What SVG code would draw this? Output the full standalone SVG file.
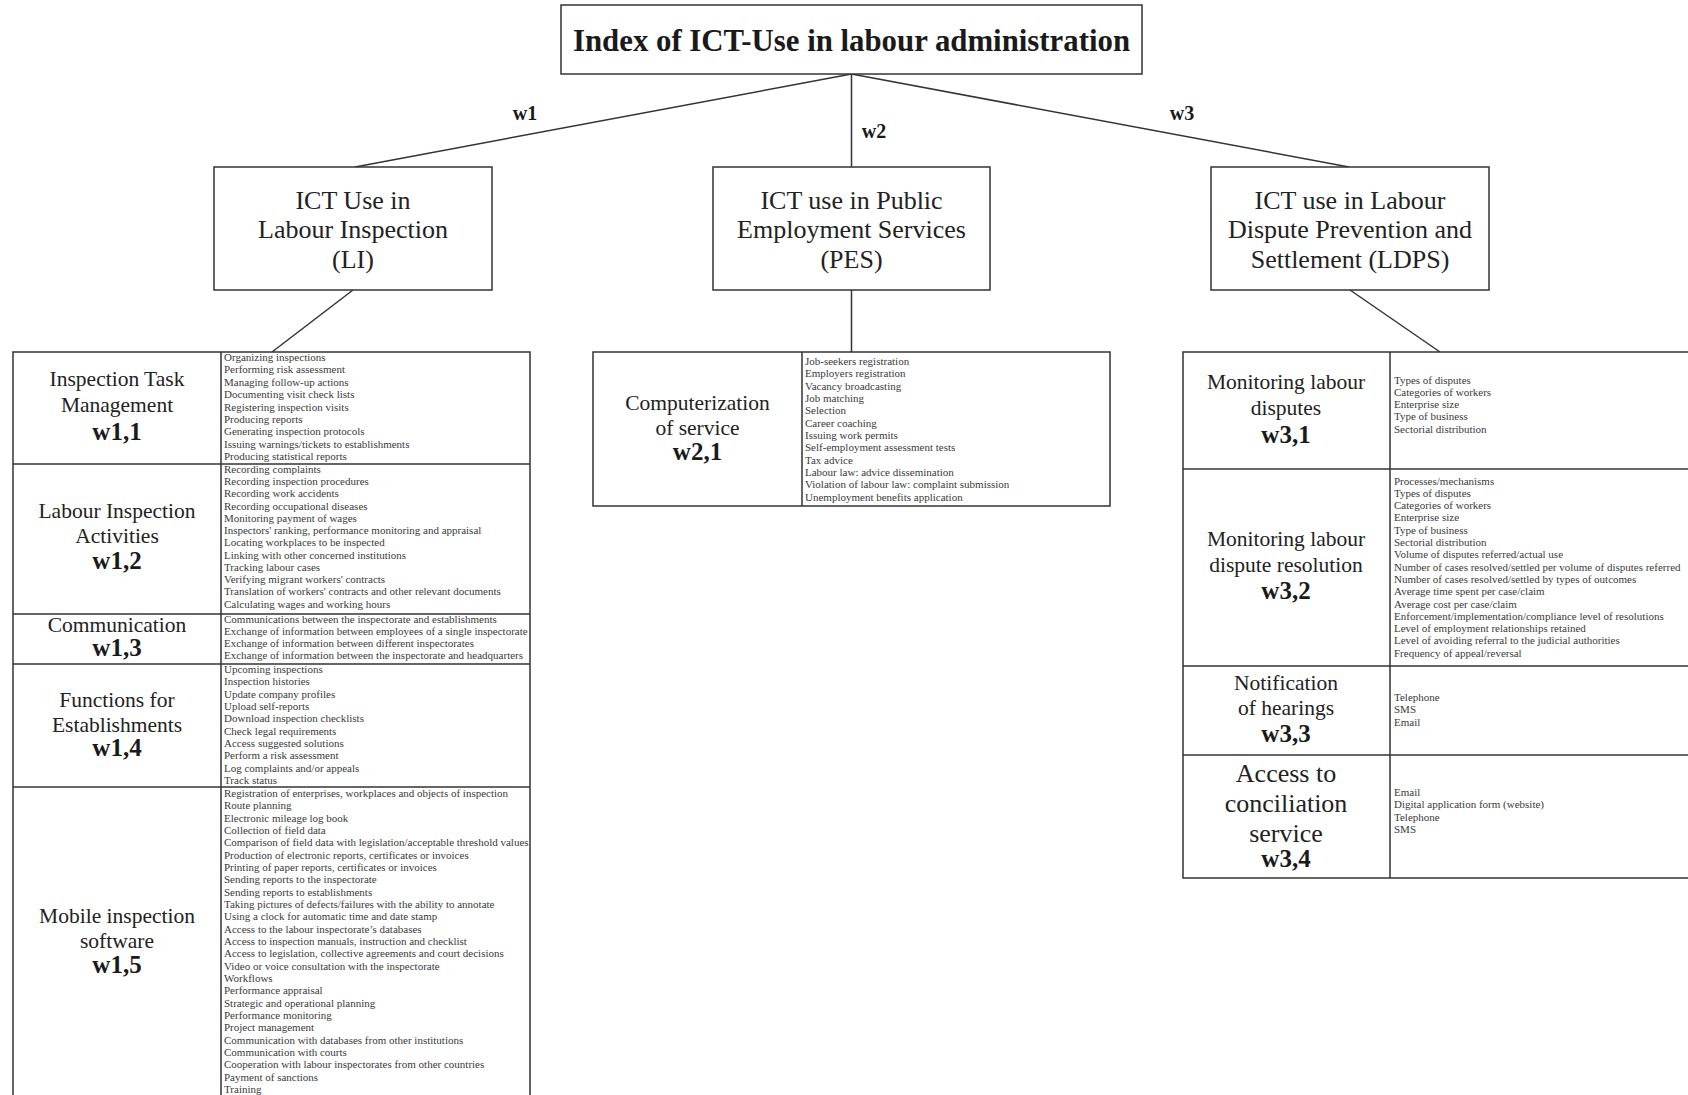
<svg xmlns="http://www.w3.org/2000/svg" width="1688" height="1095" viewBox="0 0 1688 1095">
<style>
.box{fill:#fff;stroke:#333;stroke-width:1.5}
.ln{stroke:#333;stroke-width:1.5;fill:none}
.title{font-family:"Liberation Serif",serif;font-weight:bold;font-size:30.8px;fill:#1a1a1a;text-anchor:middle}
.wl{font-family:"Liberation Serif",serif;font-weight:bold;font-size:20px;fill:#1a1a1a;text-anchor:middle}
.l2{font-family:"Liberation Serif",serif;font-size:26px;fill:#222;text-anchor:middle}
.lab{font-family:"Liberation Serif",serif;font-size:21.5px;fill:#222;text-anchor:middle}
.lab26{font-family:"Liberation Serif",serif;font-size:26px;fill:#222;text-anchor:middle}
.wb{font-family:"Liberation Serif",serif;font-weight:bold;font-size:25px;fill:#1a1a1a;text-anchor:middle}
.sm{font-family:"Liberation Serif",serif;font-size:11px;fill:#3a3a3a}
</style>
<rect width="1688" height="1095" fill="#fff"/>

<g id="connectors">
<line class="ln" x1="851.5" y1="74" x2="355" y2="167"/>
<line class="ln" x1="851.5" y1="74" x2="851.5" y2="167"/>
<line class="ln" x1="851.5" y1="74" x2="1349" y2="167"/>
<line class="ln" x1="353" y1="290" x2="272" y2="352"/>
<line class="ln" x1="851.5" y1="290" x2="851.5" y2="352"/>
<line class="ln" x1="1350" y1="290" x2="1440" y2="352"/>
<text class="wl" x="525" y="120">w1</text>
<text class="wl" x="874" y="138">w2</text>
<text class="wl" x="1182" y="120">w3</text>
</g>

<g id="root">
<rect class="box" x="561" y="5" width="581" height="69"/>
<text class="title" x="851.5" y="51">Index of ICT-Use in labour administration</text>
</g>

<g id="li">
<rect class="box" x="214" y="167" width="278" height="123"/>
<text class="l2" x="353" y="208.5">ICT Use in</text>
<text class="l2" x="353" y="237.5">Labour Inspection</text>
<text class="l2" x="353" y="268">(LI)</text>
</g>

<g id="pes">
<rect class="box" x="713" y="167" width="277" height="123"/>
<text class="l2" x="851.5" y="208.5">ICT use in Public</text>
<text class="l2" x="851.5" y="237.5">Employment Services</text>
<text class="l2" x="851.5" y="268">(PES)</text>
</g>

<g id="ldps">
<rect class="box" x="1211" y="167" width="278" height="123"/>
<text class="l2" x="1350" y="208.5">ICT use in Labour</text>
<text class="l2" x="1350" y="237.5">Dispute Prevention and</text>
<text class="l2" x="1350" y="268">Settlement (LDPS)</text>
</g>

<g id="table-li">
<rect class="box" x="13" y="352" width="517" height="760"/>
<line class="ln" x1="221" y1="352" x2="221" y2="1112"/>
<line class="ln" x1="13" y1="464" x2="530" y2="464"/>
<line class="ln" x1="13" y1="614" x2="530" y2="614"/>
<line class="ln" x1="13" y1="664" x2="530" y2="664"/>
<line class="ln" x1="13" y1="787" x2="530" y2="787"/>
</g>

<g id="w11">
<text class="lab" x="117" y="386">Inspection Task</text>
<text class="lab" x="117" y="412">Management</text>
<text class="wb" x="117" y="440">w1,1</text>
<text class="sm" y="361"><tspan x="224">Organizing inspections</tspan><tspan x="224" dy="12.375">Performing risk assessment</tspan><tspan x="224" dy="12.375">Managing follow-up actions</tspan><tspan x="224" dy="12.375">Documenting visit check lists</tspan><tspan x="224" dy="12.375">Registering inspection visits</tspan><tspan x="224" dy="12.375">Producing reports</tspan><tspan x="224" dy="12.375">Generating inspection protocols</tspan><tspan x="224" dy="12.375">Issuing warnings/tickets to establishments</tspan><tspan x="224" dy="12.375">Producing statistical reports</tspan></text>
</g>

<g id="w12">
<text class="lab" x="117" y="518">Labour Inspection</text>
<text class="lab" x="117" y="543">Activities</text>
<text class="wb" x="117" y="569">w1,2</text>
<text class="sm" y="473"><tspan x="224">Recording complaints</tspan><tspan x="224" dy="12.23">Recording inspection procedures</tspan><tspan x="224" dy="12.23">Recording work accidents</tspan><tspan x="224" dy="12.23">Recording occupational diseases</tspan><tspan x="224" dy="12.23">Monitoring payment of wages</tspan><tspan x="224" dy="12.23">Inspectors' ranking, performance monitoring and appraisal</tspan><tspan x="224" dy="12.23">Locating workplaces to be inspected</tspan><tspan x="224" dy="12.23">Linking with other concerned institutions</tspan><tspan x="224" dy="12.23">Tracking labour cases</tspan><tspan x="224" dy="12.23">Verifying migrant workers' contracts</tspan><tspan x="224" dy="12.23">Translation of workers' contracts and other relevant documents</tspan><tspan x="224" dy="12.23">Calculating wages and working hours</tspan></text>
</g>

<g id="w13">
<text class="lab" x="117" y="632">Communication</text>
<text class="wb" x="117" y="656">w1,3</text>
<text class="sm" y="622.5"><tspan x="224">Communications between the inspectorate and establishments</tspan><tspan x="224" dy="12.3">Exchange of information between employees of a single inspectorate</tspan><tspan x="224" dy="12.3">Exchange of information between different inspectorates</tspan><tspan x="224" dy="12.3">Exchange of information between the inspectorate and headquarters</tspan></text>
</g>

<g id="w14">
<text class="lab" x="117" y="707">Functions for</text>
<text class="lab" x="117" y="731.5">Establishments</text>
<text class="wb" x="117" y="756">w1,4</text>
<text class="sm" y="673"><tspan x="224">Upcoming inspections</tspan><tspan x="224" dy="12.32">Inspection histories</tspan><tspan x="224" dy="12.32">Update company profiles</tspan><tspan x="224" dy="12.32">Upload self-reports</tspan><tspan x="224" dy="12.32">Download inspection checklists</tspan><tspan x="224" dy="12.32">Check legal requirements</tspan><tspan x="224" dy="12.32">Access suggested solutions</tspan><tspan x="224" dy="12.32">Perform a risk assessment</tspan><tspan x="224" dy="12.32">Log complaints and/or appeals</tspan><tspan x="224" dy="12.32">Track status</tspan></text>
</g>

<g id="w15">
<text class="lab" x="117" y="923">Mobile inspection</text>
<text class="lab" x="117" y="947.5">software</text>
<text class="wb" x="117" y="973">w1,5</text>
<text class="sm" y="797"><tspan x="224">Registration of enterprises, workplaces and objects of inspection</tspan><tspan x="224" dy="12.33">Route planning</tspan><tspan x="224" dy="12.33">Electronic mileage log book</tspan><tspan x="224" dy="12.33">Collection of field data</tspan><tspan x="224" dy="12.33">Comparison of field data with legislation/acceptable threshold values</tspan><tspan x="224" dy="12.33">Production of electronic reports, certificates or invoices</tspan><tspan x="224" dy="12.33">Printing of paper reports, certificates or invoices</tspan><tspan x="224" dy="12.33">Sending reports to the inspectorate</tspan><tspan x="224" dy="12.33">Sending reports to establishments</tspan><tspan x="224" dy="12.33">Taking pictures of defects/failures with the ability to annotate</tspan><tspan x="224" dy="12.33">Using a clock for automatic time and date stamp</tspan><tspan x="224" dy="12.33">Access to the labour inspectorate’s databases</tspan><tspan x="224" dy="12.33">Access to inspection manuals, instruction and checklist</tspan><tspan x="224" dy="12.33">Access to legislation, collective agreements and court decisions</tspan><tspan x="224" dy="12.33">Video or voice consultation with the inspectorate</tspan><tspan x="224" dy="12.33">Workflows</tspan><tspan x="224" dy="12.33">Performance appraisal</tspan><tspan x="224" dy="12.33">Strategic and operational planning</tspan><tspan x="224" dy="12.33">Performance monitoring</tspan><tspan x="224" dy="12.33">Project management</tspan><tspan x="224" dy="12.33">Communication with databases from other institutions</tspan><tspan x="224" dy="12.33">Communication with courts</tspan><tspan x="224" dy="12.33">Cooperation with labour inspectorates from other countries</tspan><tspan x="224" dy="12.33">Payment of sanctions</tspan><tspan x="224" dy="12.33">Training</tspan></text>
</g>

<g id="table-pes">
<rect class="box" x="593" y="352" width="517" height="154"/>
<line class="ln" x1="802" y1="352" x2="802" y2="506"/>
</g>

<g id="w21">
<text class="lab" x="697.5" y="409.5">Computerization</text>
<text class="lab" x="697.5" y="434.5">of service</text>
<text class="wb" x="697.5" y="460">w2,1</text>
<text class="sm" y="365"><tspan x="805">Job-seekers registration</tspan><tspan x="805" dy="12.33">Employers registration</tspan><tspan x="805" dy="12.33">Vacancy broadcasting</tspan><tspan x="805" dy="12.33">Job matching</tspan><tspan x="805" dy="12.33">Selection</tspan><tspan x="805" dy="12.33">Career coaching</tspan><tspan x="805" dy="12.33">Issuing work permits</tspan><tspan x="805" dy="12.33">Self-employment assessment tests</tspan><tspan x="805" dy="12.33">Tax advice</tspan><tspan x="805" dy="12.33">Labour law: advice dissemination</tspan><tspan x="805" dy="12.33">Violation of labour law: complaint submission</tspan><tspan x="805" dy="12.33">Unemployment benefits application</tspan></text>
</g>

<g id="table-ldps">
<rect class="box" x="1183" y="352" width="530" height="526"/>
<line class="ln" x1="1390" y1="352" x2="1390" y2="878"/>
<line class="ln" x1="1183" y1="469" x2="1713" y2="469"/>
<line class="ln" x1="1183" y1="666" x2="1713" y2="666"/>
<line class="ln" x1="1183" y1="755" x2="1713" y2="755"/>
</g>

<g id="w31">
<text class="lab" x="1286" y="389">Monitoring labour</text>
<text class="lab" x="1286" y="415">disputes</text>
<text class="wb" x="1286" y="443">w3,1</text>
<text class="sm" y="383.5"><tspan x="1394">Types of disputes</tspan><tspan x="1394" dy="12.3">Categories of workers</tspan><tspan x="1394" dy="12.3">Enterprise size</tspan><tspan x="1394" dy="12.3">Type of business</tspan><tspan x="1394" dy="12.3">Sectorial distribution</tspan></text>
</g>

<g id="w32">
<text class="lab" x="1286" y="546">Monitoring labour</text>
<text class="lab" x="1286" y="572">dispute resolution</text>
<text class="wb" x="1286" y="599">w3,2</text>
<text class="sm" y="484.5"><tspan x="1394">Processes/mechanisms</tspan><tspan x="1394" dy="12.3">Types of disputes</tspan><tspan x="1394" dy="12.3">Categories of workers</tspan><tspan x="1394" dy="12.3">Enterprise size</tspan><tspan x="1394" dy="12.3">Type of business</tspan><tspan x="1394" dy="12.3">Sectorial distribution</tspan><tspan x="1394" dy="12.3">Volume of disputes referred/actual use</tspan><tspan x="1394" dy="12.3">Number of cases resolved/settled per volume of disputes referred</tspan><tspan x="1394" dy="12.3">Number of cases resolved/settled by types of outcomes</tspan><tspan x="1394" dy="12.3">Average time spent per case/claim</tspan><tspan x="1394" dy="12.3">Average cost per case/claim</tspan><tspan x="1394" dy="12.3">Enforcement/implementation/compliance level of resolutions</tspan><tspan x="1394" dy="12.3">Level of employment relationships retained</tspan><tspan x="1394" dy="12.3">Level of avoiding referral to the judicial authorities</tspan><tspan x="1394" dy="12.3">Frequency of appeal/reversal</tspan></text>
</g>

<g id="w33">
<text class="lab" x="1286" y="689.5">Notification</text>
<text class="lab" x="1286" y="715">of hearings</text>
<text class="wb" x="1286" y="742">w3,3</text>
<text class="sm" y="701"><tspan x="1394">Telephone</tspan><tspan x="1394" dy="12.3">SMS</tspan><tspan x="1394" dy="12.3">Email</tspan></text>
</g>

<g id="w34">
<text class="lab26" x="1286" y="782">Access to</text>
<text class="lab26" x="1286" y="812">conciliation</text>
<text class="lab26" x="1286" y="842">service</text>
<text class="wb" x="1286" y="867">w3,4</text>
<text class="sm" y="795.5"><tspan x="1394">Email</tspan><tspan x="1394" dy="12.6">Digital application form (website)</tspan><tspan x="1394" dy="12.6">Telephone</tspan><tspan x="1394" dy="12.6">SMS</tspan></text>
</g>
</svg>
